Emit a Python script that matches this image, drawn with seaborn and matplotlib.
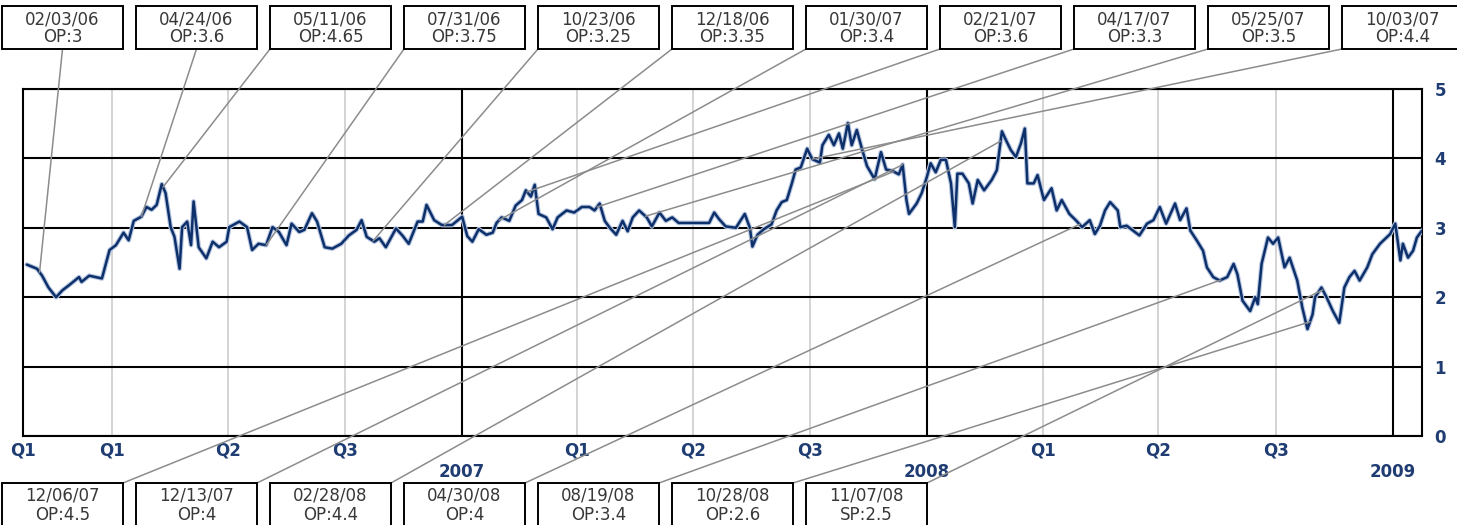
import numpy as np
import pandas as pd
import matplotlib
matplotlib.use('Agg')
import matplotlib.pyplot as plt
import matplotlib.dates as mdates
import matplotlib.patheffects as pe
from matplotlib.patches import Rectangle
import seaborn as sns

# ---------------- data ----------------
dates = [
    '2006-01-24', '2006-02-01', '2006-02-05', '2006-02-10', '2006-02-16', '2006-02-21', '2006-02-26',
    '2006-03-06', '2006-03-08', '2006-03-14', '2006-03-19', '2006-03-24', '2006-03-30', '2006-04-04',
    '2006-04-10', '2006-04-14', '2006-04-18', '2006-04-24', '2006-04-28', '2006-05-02', '2006-05-06',
    '2006-05-10', '2006-05-13', '2006-05-17', '2006-05-20', '2006-05-24', '2006-05-26', '2006-05-30',
    '2006-06-02', '2006-06-04', '2006-06-08', '2006-06-14', '2006-06-19', '2006-06-24', '2006-06-30',
    '2006-07-02', '2006-07-10', '2006-07-16', '2006-07-20', '2006-07-25', '2006-07-31', '2006-08-05',
    '2006-08-10', '2006-08-16', '2006-08-20', '2006-08-26', '2006-08-30', '2006-09-05', '2006-09-09',
    '2006-09-15', '2006-09-21', '2006-09-28', '2006-10-04', '2006-10-10', '2006-10-14', '2006-10-18',
    '2006-10-24', '2006-10-28', '2006-11-02', '2006-11-10', '2006-11-15', '2006-11-20', '2006-11-27',
    '2006-12-01', '2006-12-04', '2006-12-10', '2006-12-16', '2006-12-24',
    '2007-01-01', '2007-01-05', '2007-01-09', '2007-01-14', '2007-01-20', '2007-01-25', '2007-01-28',
    '2007-02-01', '2007-02-07', '2007-02-12', '2007-02-17', '2007-02-20', '2007-02-24', '2007-02-27',
    '2007-03-02', '2007-03-08', '2007-03-13', '2007-03-17', '2007-03-24', '2007-03-30', '2007-04-05',
    '2007-04-11', '2007-04-15', '2007-04-19', '2007-04-23', '2007-04-27', '2007-05-02', '2007-05-07',
    '2007-05-11', '2007-05-15', '2007-05-20', '2007-05-26', '2007-05-30', '2007-06-05', '2007-06-10',
    '2007-06-15', '2007-06-20', '2007-07-01', '2007-07-14', '2007-07-18', '2007-07-22', '2007-07-27',
    '2007-08-04', '2007-08-11', '2007-08-15', '2007-08-17', '2007-08-21', '2007-08-26', '2007-09-01',
    '2007-09-05', '2007-09-09', '2007-09-13', '2007-09-17', '2007-09-20', '2007-09-24', '2007-09-29',
    '2007-10-03', '2007-10-09', '2007-10-11', '2007-10-16', '2007-10-20', '2007-10-24', '2007-10-27',
    '2007-10-31', '2007-11-03', '2007-11-07', '2007-11-11', '2007-11-15', '2007-11-21', '2007-11-26',
    '2007-11-30', '2007-12-05', '2007-12-10', '2007-12-13', '2007-12-16', '2007-12-18', '2007-12-24',
    '2007-12-28',
    '2008-01-01', '2008-01-04', '2008-01-08', '2008-01-12', '2008-01-16', '2008-01-20', '2008-01-23',
    '2008-01-25', '2008-01-29', '2008-02-03', '2008-02-06', '2008-02-10', '2008-02-15', '2008-02-21',
    '2008-02-25', '2008-02-29', '2008-03-03', '2008-03-07', '2008-03-11', '2008-03-15', '2008-03-18',
    '2008-03-20', '2008-03-25', '2008-03-28', '2008-04-02', '2008-04-08', '2008-04-12', '2008-04-16',
    '2008-04-22', '2008-04-27', '2008-05-02', '2008-05-08', '2008-05-12', '2008-05-16', '2008-05-20',
    '2008-05-24', '2008-05-30', '2008-06-01', '2008-06-06', '2008-06-11', '2008-06-16', '2008-06-22',
    '2008-06-27', '2008-07-02', '2008-07-07', '2008-07-14', '2008-07-18', '2008-07-23', '2008-07-26',
    '2008-07-31', '2008-08-05', '2008-08-08', '2008-08-13', '2008-08-18', '2008-08-24', '2008-08-29',
    '2008-09-01', '2008-09-05', '2008-09-11', '2008-09-15', '2008-09-17', '2008-09-20', '2008-09-25',
    '2008-09-29', '2008-10-03', '2008-10-08', '2008-10-12', '2008-10-18', '2008-10-22', '2008-10-26',
    '2008-10-30', '2008-11-01', '2008-11-06', '2008-11-10', '2008-11-15', '2008-11-20', '2008-11-24',
    '2008-11-28', '2008-12-02', '2008-12-06', '2008-12-12', '2008-12-16', '2008-12-22', '2008-12-26',
    '2008-12-30',
    '2009-01-03', '2009-01-07', '2009-01-09', '2009-01-13', '2009-01-17', '2009-01-20', '2009-01-24',
]
prices = [
    2.47, 2.41, 2.31, 2.14, 2.00, 2.10, 2.17,
    2.29, 2.22, 2.31, 2.29, 2.27, 2.68, 2.75,
    2.93, 2.82, 3.10, 3.16, 3.30, 3.26, 3.33,
    3.63, 3.50, 3.01, 2.87, 2.41, 3.01, 3.09,
    2.75, 3.38, 2.72, 2.56, 2.80, 2.72, 2.80,
    3.01, 3.09, 3.01, 2.68, 2.77, 2.75, 3.01,
    2.94, 2.75, 3.06, 2.94, 2.97, 3.21, 3.09,
    2.72, 2.70, 2.77, 2.89, 2.97, 3.11, 2.87,
    2.80, 2.85, 2.72, 2.99, 2.89, 2.77, 3.09,
    3.09, 3.33, 3.11, 3.04, 3.04,
    3.16, 2.88, 2.80, 2.98, 2.90, 2.93, 3.07,
    3.15, 3.10, 3.32, 3.40, 3.54, 3.45, 3.62,
    3.20, 3.15, 2.98, 3.15, 3.25, 3.22, 3.30,
    3.30, 3.25, 3.35, 3.10, 3.00, 2.90, 3.10,
    2.95, 3.15, 3.25, 3.15, 3.02, 3.22, 3.10,
    3.15, 3.07, 3.07, 3.07, 3.22, 3.12, 3.02,
    3.00, 3.20, 3.00, 2.73, 2.90, 2.98, 3.05,
    3.25, 3.37, 3.40, 3.64, 3.84, 3.87, 4.14,
    3.99, 3.94, 4.19, 4.34, 4.19, 4.36, 4.14,
    4.51, 4.19, 4.41, 4.14, 3.89, 3.70, 4.09,
    3.84, 3.82, 3.77, 3.91, 3.40, 3.20, 3.35,
    3.50,
    3.73, 3.93, 3.80, 3.98, 3.98, 3.64, 3.01,
    3.78, 3.78, 3.64, 3.35, 3.69, 3.54, 3.69,
    3.83, 4.39, 4.27, 4.12, 4.02, 4.22, 4.43,
    3.64, 3.64, 3.76, 3.40, 3.57, 3.25, 3.40,
    3.20, 3.11, 3.01, 3.11, 2.91, 3.03, 3.25,
    3.37, 3.25, 3.01, 3.03, 2.96, 2.89, 3.06,
    3.11, 3.30, 3.06, 3.35, 3.11, 3.28, 2.96,
    2.82, 2.67, 2.43, 2.29, 2.24, 2.29, 2.48,
    2.33, 1.95, 1.80, 2.00, 1.90, 2.48, 2.86,
    2.77, 2.86, 2.43, 2.57, 2.24, 1.85, 1.54,
    1.75, 2.00, 2.14, 2.00, 1.80, 1.63, 2.14,
    2.29, 2.38, 2.24, 2.43, 2.62, 2.77, 2.84,
    2.91,
    3.06, 2.53, 2.77, 2.57, 2.67, 2.86, 2.96,
]

top_dates = ['2006-02-03', '2006-04-24', '2006-05-11', '2006-07-31', '2006-10-23', '2006-12-18',
             '2007-01-30', '2007-02-21', '2007-04-17', '2007-05-25', '2007-10-03']
top_labels = ['OP:3', 'OP:3.6', 'OP:4.65', 'OP:3.75', 'OP:3.25', 'OP:3.35',
              'OP:3.4', 'OP:3.6', 'OP:3.3', 'OP:3.5', 'OP:4.4']
bottom_dates = ['2007-12-06', '2007-12-13', '2008-02-28', '2008-04-30', '2008-08-19', '2008-10-28', '2008-11-07']
bottom_labels = ['OP:4.5', 'OP:4', 'OP:4.4', 'OP:4', 'OP:3.4', 'OP:2.6', 'SP:2.5']

y_ticks = [0, 1, 2, 3, 4, 5]
year_ticks = ['2007-01-01', '2008-01-01', '2009-01-01']
year_labels = ['2007', '2008', '2009']
x_start, x_end = '2006-01-21', '2009-01-24'
quarter_ticks = ['2006-01-21', '2006-04-01', '2006-07-01', '2006-10-01', '2007-04-01', '2007-07-01',
                 '2007-10-01', '2008-04-01', '2008-07-01', '2008-10-01']
quarter_labels = ['Q1', 'Q1', 'Q2', 'Q3', 'Q1', 'Q2', 'Q3', 'Q1', 'Q2', 'Q3']

# ---------------- style ----------------
NAVY = '#0d2f6a'
LABEL = '#1f3d73'
sns.set_style('white')
plt.rcParams['font.family'] = ['DejaVu Sans']

W, H = 1457, 525
fig = plt.figure(figsize=(W / 100, H / 100), dpi=100)
ax = fig.add_axes([23 / W, (H - 436) / H, (1422 - 23) / W, (436 - 89) / H])

df = pd.DataFrame({'date': pd.to_datetime(dates), 'price': prices})
sns.lineplot(data=df, x='date', y='price', ax=ax, color=NAVY, lw=1.8, estimator=None, sort=False,
             zorder=4, path_effects=[pe.Stroke(linewidth=3.4, foreground='#b6c6e0'), pe.Normal()])

ax.set_xlim(pd.Timestamp(x_start), pd.Timestamp(x_end))
ax.set_ylim(0, 5)
ax.set_xlabel('')
ax.set_ylabel('')

# y axis on the right
ax.yaxis.tick_right()
ax.set_yticks(y_ticks)
ax.set_yticklabels([str(v) for v in y_ticks])
ax.tick_params(axis='y', length=0, pad=9, labelsize=12, labelcolor=LABEL)

# x axis: years (major) and quarters (minor)
ax.set_xticks(pd.to_datetime(year_ticks))
ax.set_xticklabels(year_labels)
ax.set_xticks(pd.to_datetime(quarter_ticks), labels=quarter_labels, minor=True)
ax.tick_params(axis='x', which='major', length=14.4, width=1.5, color='black', pad=5,
               labelsize=12, labelcolor=LABEL)
ax.tick_params(axis='x', which='minor', length=0, pad=4, labelsize=12, labelcolor=LABEL)
for lab in ax.get_xticklabels(which='both') + ax.get_yticklabels():
    lab.set_fontweight('bold')

# grid
ax.grid(False)
ax.xaxis.grid(True, which='minor', color='#c9c9c9', lw=1.1)
ax.xaxis.grid(True, which='major', color='black', lw=1.5)
ax.yaxis.grid(True, which='major', color='black', lw=1.5)
ax.set_axisbelow(True)
for s in ax.spines.values():
    s.set_visible(True)
    s.set_color('black')
    s.set_linewidth(1.5)

# ---------------- annotation boxes ----------------
num_dates = mdates.date2num(df['date'])
BOX_W, BOX_H, STEP, X0 = 121, 43, 134, 2


def add_box(i, date_str, label, row):
    left = X0 + STEP * i
    if row == 'top':
        bottom = H - 49
    else:
        bottom = -1
    rect = Rectangle((left / W, bottom / H), BOX_W / W, BOX_H / H, transform=fig.transFigure,
                     facecolor='white', edgecolor='black', lw=1.4, zorder=5)
    fig.add_artist(rect)
    cx = left + BOX_W / 2
    top = bottom + BOX_H
    d = pd.Timestamp(date_str)
    fig.text(cx / W, (top - 13) / H, d.strftime('%m/%d/%y'), ha='center', va='center',
             fontsize=12, color='#383838', zorder=6)
    fig.text(cx / W, (top - 31.5) / H, label, ha='center', va='center',
             fontsize=12, color='#383838', zorder=6)
    # leader line to the price on that date
    tn = mdates.date2num(d)
    tv = np.interp(tn, num_dates, prices)
    px, py = ax.transData.transform((tn, tv))
    if px < left:
        ax_x = left
    elif px > left + BOX_W:
        ax_x = left + BOX_W
    else:
        ax_x = cx
    ax_y = bottom if row == 'top' else top
    ax.annotate('', xy=(tn, tv), xycoords='data', xytext=(ax_x, ax_y), textcoords='figure pixels',
                arrowprops=dict(arrowstyle='-', color='#8c8c8c', lw=1.1, shrinkA=0, shrinkB=0),
                zorder=5, annotation_clip=False)


for i, (d, l) in enumerate(zip(top_dates, top_labels)):
    add_box(i, d, l, 'top')
for i, (d, l) in enumerate(zip(bottom_dates, bottom_labels)):
    add_box(i, d, l, 'bottom')

fig.savefig('out.png', dpi=100)
